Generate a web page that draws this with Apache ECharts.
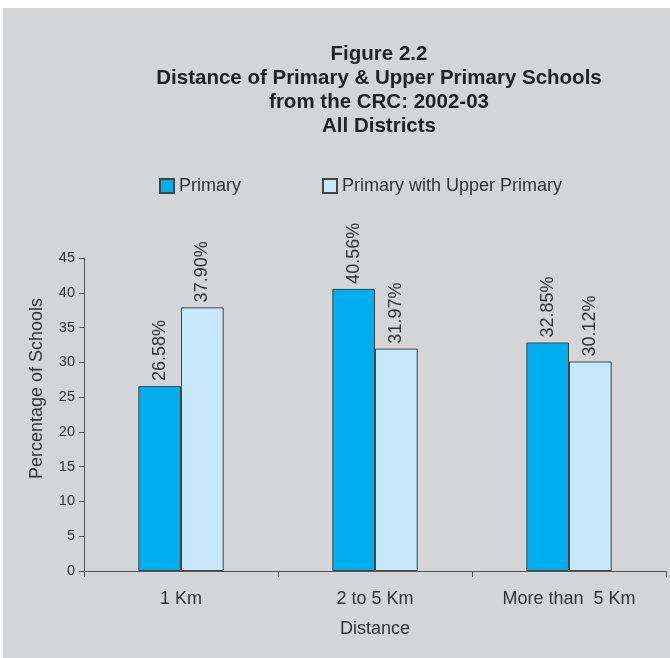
<!DOCTYPE html>
<html><head><meta charset="utf-8">
<script src="https://cdn.jsdelivr.net/npm/echarts@6/dist/echarts.min.js"></script>
<style>html,body{margin:0;padding:0;background:#fff;}#c{position:absolute;left:3px;top:8px;width:667px;height:650px;background:#d4d5d7;}</style>
</head><body><div id="c"></div>
<script>
const categories = ['1 Km', '2 to 5 Km', 'More than  5 Km'];
const primary = [26.58, 40.56, 32.85];
const upperPrimary = [37.90, 31.97, 30.12];
const yTicks = [0, 5, 10, 15, 20, 25, 30, 35, 40, 45];

const chart = echarts.init(document.getElementById('c'), null, {renderer: 'canvas'});
const txt = '#333';
const font = 'Liberation Sans, Arial, sans-serif';
const lbl = {
  show: true, position: 'top', rotate: 90, align: 'left', verticalAlign: 'middle',
  distance: 5, fontSize: 18, color: txt, fontFamily: font,
  formatter: p => p.value.toFixed(2) + '%'
};
chart.setOption({
  animation: false,
  textStyle: {fontFamily: font},
  title: {
    text: 'Figure 2.2\nDistance of Primary & Upper Primary Schools\nfrom the CRC: 2002-03\nAll Districts',
    left: 371, top: 29, textAlign: 'center',
    textStyle: {fontSize: 20.5, fontWeight: 'bold', color: '#222', lineHeight: 24, fontFamily: font}
  },
  legend: {
    left: 151, top: 164, itemWidth: 14, itemHeight: 14, itemGap: 81,
    icon: 'rect',
    textStyle: {fontSize: 18, color: txt, fontFamily: font},
    data: ['Primary', 'Primary with Upper Primary']
  },
  grid: {left: 81, right: 4, top: 250, bottom: 87, containLabel: false},
  xAxis: {
    type: 'category', data: categories,
    name: 'Distance', nameLocation: 'middle', nameGap: 49,
    nameTextStyle: {fontSize: 18, color: txt},
    axisLine: {lineStyle: {color: '#555'}},
    axisTick: {show: true, length: 6, lineStyle: {color: '#555'}},
    axisLabel: {fontSize: 18, color: txt, margin: 19}
  },
  yAxis: {
    type: 'value', min: 0, max: 45, interval: 5,
    name: 'Percentage of Schools', nameLocation: 'middle', nameGap: 38,
    nameTextStyle: {fontSize: 18, color: txt, padding: [0, 0, 0, 52]},
    axisLine: {show: true, lineStyle: {color: '#555'}},
    axisTick: {show: true, length: 5, lineStyle: {color: '#555'}},
    axisLabel: {fontSize: 14.5, color: txt, margin: 9, formatter: v => yTicks.includes(v) ? String(v) : ''},
    splitLine: {show: false}
  },
  series: [
    {name: 'Primary', type: 'bar', data: primary, barGap: '0%', barCategoryGap: '56%',
     itemStyle: {color: '#00adef', borderColor: '#444', borderWidth: 1}, label: lbl},
    {name: 'Primary with Upper Primary', type: 'bar', data: upperPrimary,
     itemStyle: {color: '#c6e8fa', borderColor: '#444', borderWidth: 1}, label: lbl}
  ]
});
</script></body></html>
